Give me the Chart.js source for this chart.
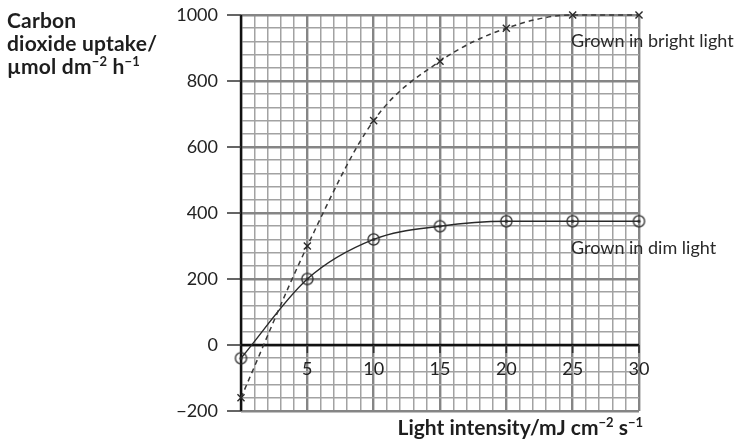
<!DOCTYPE html>
<html><head><meta charset="utf-8">
<script src="https://cdn.jsdelivr.net/npm/chart.js@4"></script>
<style>
body{margin:0;background:#fff;}
#wrap{position:relative;width:747px;height:439px;font-family:Lato,sans-serif;color:#1e1e1e;overflow:hidden;}
canvas{position:absolute;left:0;top:0;}
.t{position:absolute;white-space:nowrap;}
.b{font-weight:bold;}
.s{font-size:13px;position:relative;top:-8px;}
</style></head><body>
<div id="wrap"><canvas id="c" width="747" height="439"></canvas>
<div class="t b" style="left:7px;top:8px;font-size:21px;line-height:23px;letter-spacing:0.2px;">Carbon<br>dioxide uptake/<br>µmol dm<span class="s">−2</span> h<span class="s">−1</span></div>
<div class="t" style="left:571px;top:28px;font-size:18px;line-height:24px;color:#2a2a2a;">Grown in bright light</div>
<div class="t" style="left:571px;top:235px;font-size:18px;line-height:24px;color:#2a2a2a;">Grown in dim light</div>
<div class="t b" style="right:104px;top:416px;font-size:21px;line-height:22px;">Light intensity/mJ cm<span class="s">−2</span> s<span class="s">−1</span></div>
</div>
<script>
const lightIntensity = [0, 5, 10, 15, 20, 25, 30];
const brightUptake = [-160, 300, 680, 860, 960, 1000, 1000];
const dimUptake = [-40, 200, 320, 360, 375, 375, 375];
const yTickLabels = [-200, 0, 200, 400, 600, 800, 1000];
const xTickLabels = [5, 10, 15, 20, 25, 30];

const circ = document.createElement('canvas');
circ.width = 15; circ.height = 15;
(function(){
  const g = circ.getContext('2d');
  g.strokeStyle = '#2a2a2a'; g.lineWidth = 1.3;
  g.beginPath(); g.arc(7.5, 7.5, 5.6, 0, Math.PI*2); g.stroke();
  g.fillStyle = '#2a2a2a';
  g.beginPath(); g.arc(7.5, 7.5, 1.6, 0, Math.PI*2); g.fill();
})();

const axesPlugin = {
  id: 'axesPlugin',
  beforeDatasetsDraw(chart) {
    const c = chart.ctx, xs = chart.scales.x, ys = chart.scales.y;
    const x0 = xs.getPixelForValue(0), y0 = ys.getPixelForValue(0);
    c.save();
    c.strokeStyle = '#111';
    c.lineWidth = 2.4;
    c.beginPath();
    c.moveTo(x0, ys.getPixelForValue(1000)); c.lineTo(x0, ys.getPixelForValue(-200));
    c.moveTo(x0, y0); c.lineTo(xs.getPixelForValue(30), y0);
    c.stroke();
    c.lineWidth = 1.6; c.strokeStyle = '#333';
    c.beginPath();
    yTickLabels.forEach(v => { const p = ys.getPixelForValue(v); c.moveTo(x0 - 14, p); c.lineTo(x0, p); });
    xTickLabels.forEach(v => { const p = xs.getPixelForValue(v); c.moveTo(p, y0); c.lineTo(p, y0 + 8); });
    c.stroke();
    c.fillStyle = '#222';
    c.font = '18px Lato';
    c.textAlign = 'right'; c.textBaseline = 'middle';
    yTickLabels.forEach(v => c.fillText(String(v).replace('-', '−'), x0 - 23, ys.getPixelForValue(v)));
    c.textAlign = 'center';
    xTickLabels.forEach(v => c.fillText(String(v), xs.getPixelForValue(v), y0 + 24));
    c.restore();
  }
};

new Chart(document.getElementById('c'), {
  type: 'line',
  data: {
    datasets: [
      {
        label: 'Grown in bright light',
        data: lightIntensity.map((x, i) => ({x, y: brightUptake[i]})),
        borderColor: '#3a3a3a', borderWidth: 1.5, borderDash: [5, 4],
        pointStyle: 'crossRot', pointRadius: 5, pointBorderColor: '#2a2a2a', pointBorderWidth: 1.4,
        cubicInterpolationMode: 'monotone', fill: false, clip: false
      },
      {
        label: 'Grown in dim light',
        data: lightIntensity.map((x, i) => ({x, y: dimUptake[i]})),
        borderColor: '#2a2a2a', borderWidth: 1.4,
        pointStyle: circ, pointRadius: 6,
        cubicInterpolationMode: 'monotone', fill: false, clip: false
      }
    ]
  },
  options: {
    responsive: false, animation: false,
    layout: { padding: { left: 241, right: 108, top: 15, bottom: 28 } },
    plugins: { legend: { display: false }, tooltip: { enabled: false } },
    scales: {
      x: {
        type: 'linear', min: 0, max: 30,
        ticks: { display: false, stepSize: 1 },
        border: { display: false },
        grid: {
          drawTicks: false,
          color: ctx => ctx.tick.value % 5 === 0 ? '#858585' : '#a2a2a2',
          lineWidth: ctx => ctx.tick.value % 5 === 0 ? 2.4 : 1.5
        }
      },
      y: {
        type: 'linear', min: -200, max: 1000,
        ticks: { display: false, stepSize: 40 },
        border: { display: false },
        grid: {
          drawTicks: false,
          color: ctx => ctx.tick.value % 200 === 0 ? '#858585' : '#a2a2a2',
          lineWidth: ctx => ctx.tick.value % 200 === 0 ? 2.4 : 1.5
        }
      }
    }
  },
  plugins: [axesPlugin]
});
</script>
</body></html>
